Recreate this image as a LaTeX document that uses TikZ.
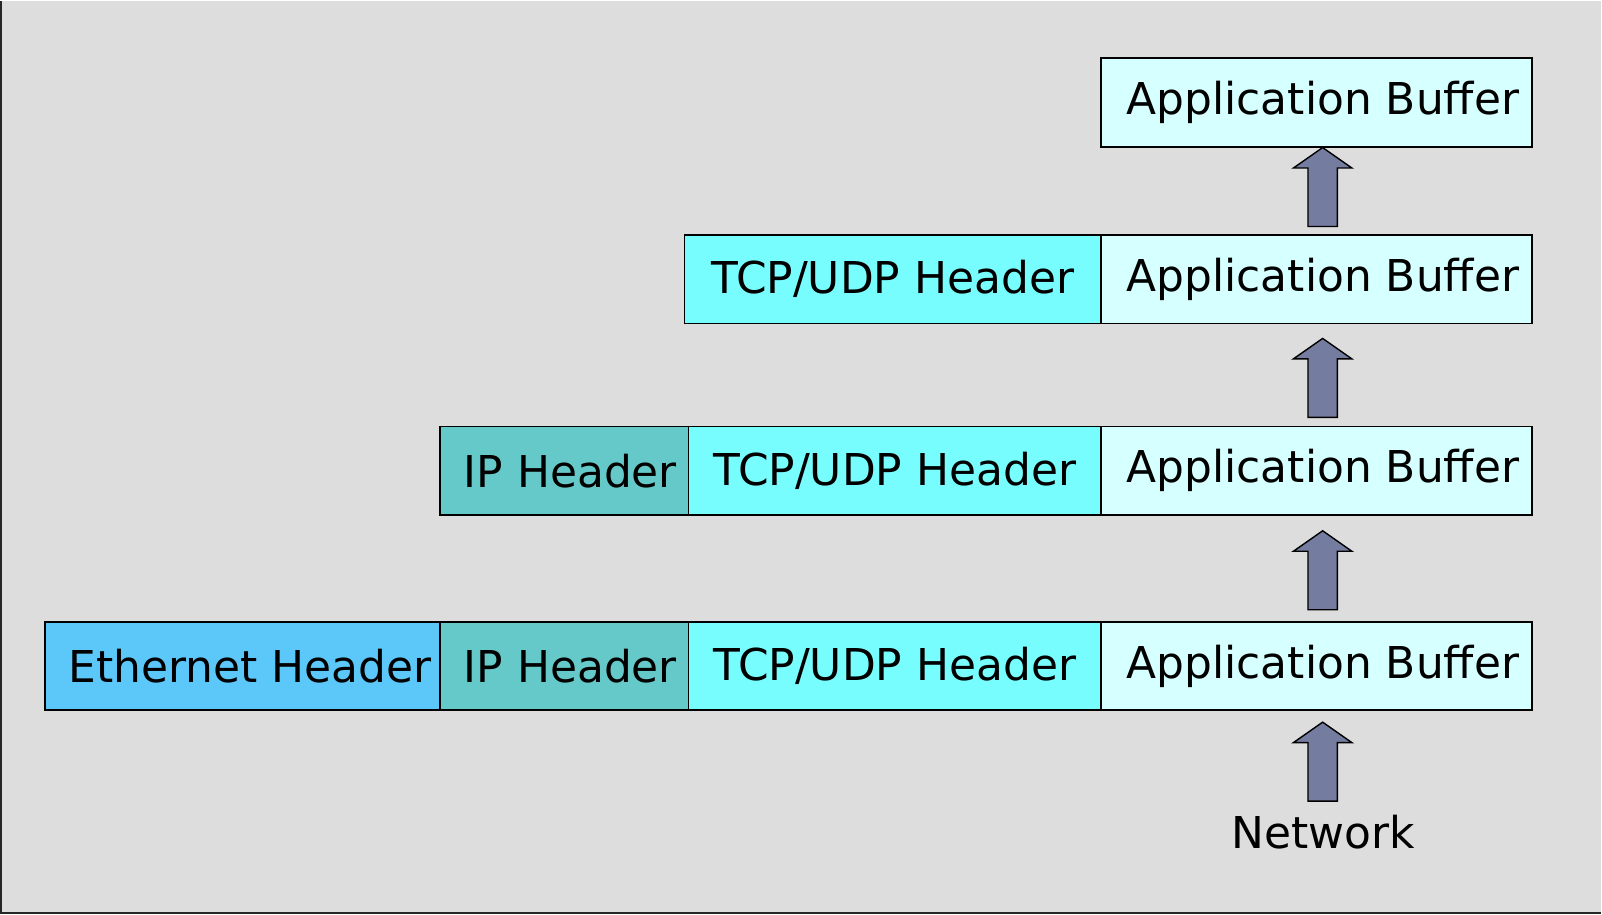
\documentclass[tikz,border=0pt]{standalone}
\usepackage{fontspec}
\setmainfont{DejaVu Sans}
\usetikzlibrary{shapes.arrows,positioning}

\definecolor{slidegray}{HTML}{DDDDDD}
\definecolor{ethblue}{HTML}{5CC8FA}
\definecolor{ipteal}{HTML}{66C9C9}
\definecolor{tcpcyan}{HTML}{78FDFF}
\definecolor{appcyan}{HTML}{D6FFFF}
\definecolor{arrowgray}{HTML}{747C9F}

\begin{document}
\begin{tikzpicture}[
    node distance=0pt,
    font=\fontsize{25}{30}\selectfont,
    layer/.style={rectangle, minimum height=1.77cm, inner sep=0pt, outer sep=0pt, text centered, draw=black, line width=1pt},
    appbox/.style={layer, minimum width=8.62cm, fill=appcyan},
    tcpbox/.style={layer, minimum width=8.26cm, fill=tcpcyan},
    ipbox/.style={layer, minimum width=4.98cm, fill=ipteal},
    ethbox/.style={layer, minimum width=7.9cm, fill=ethblue},
    uparrow/.style={single arrow, shape border rotate=90, draw=black, line width=0.8pt, fill=arrowgray, minimum height=1.58cm, minimum width=1.14cm, inner sep=0.28cm, single arrow head extend=0.29cm, single arrow tip angle=110}
]

% slide background
\fill[slidegray] (0,0) rectangle (32.04,18.28);
\draw[black!85, line width=1.2pt] (0.02,18.28) -- (0.02,0.02) -- (32.04,0.02);

\node (app1) [appbox] at (26.35,16.25) {\hspace*{0.25cm}Application Buffer};

\node (app2) [appbox] at (26.35,12.71) {\hspace*{0.25cm}Application Buffer};
\node (tcp2) [tcpbox, left=of app2, minimum width=8.34cm] {TCP/UDP Header};

\node (app3) [appbox] at (26.35,8.88) {\hspace*{0.25cm}Application Buffer};
\node (tcp3) [tcpbox, left=of app3] {TCP/UDP Header};
\node (ip3) [ipbox, left=of tcp3] {\hspace*{0.25cm}IP Header};

\node (app4) [appbox] at (26.35,4.97) {\hspace*{0.25cm}Application Buffer};
\node (tcp4) [tcpbox, left=of app4] {TCP/UDP Header};
\node (ip4) [ipbox, left=of tcp4] {\hspace*{0.25cm}IP Header};
\node (eth4) [ethbox, left=of ip4] {\hspace*{0.3cm}Ethernet Header};

\node (net) [anchor=base] at (26.48,1.32) {Network};

% Arrows
\path (net.north) -- ([xshift=1.2mm, yshift=-2.2mm]app4.south) node[uparrow, anchor=tip] (up4) {};
\path ([xshift=1.2mm]app4.north) -- ([xshift=1.2mm, yshift=-3mm]app3.south) node[uparrow, anchor=tip] (up3) {};
\path ([xshift=1.2mm]app3.north) -- ([xshift=1.2mm, yshift=-2.8mm]app2.south) node[uparrow, anchor=tip] (up2) {};
\path ([xshift=1.2mm]app2.north) -- ([xshift=1.2mm]app1.south) node[uparrow, anchor=tip] (up1) {};

\end{tikzpicture}
\end{document}
